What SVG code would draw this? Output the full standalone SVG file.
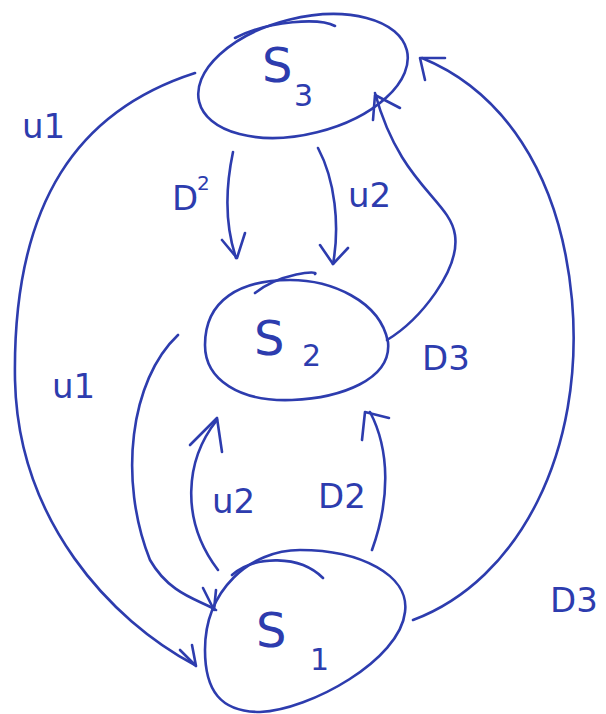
<svg xmlns="http://www.w3.org/2000/svg" width="606" height="714" viewBox="0 0 606 714">
<style>
.ln{fill:none;stroke:#2d3cae;stroke-width:2.6;stroke-linecap:round;stroke-linejoin:round}
.tx{fill:#2d3cae;font-family:"DejaVu Sans",sans-serif}
.lb{font-size:34px}
.nm{font-size:48px}
.sb{font-size:30px}
</style>
<rect width="606" height="714" fill="#ffffff"/>
<g id="S3">
<ellipse class="ln" cx="303" cy="76" rx="107" ry="58" transform="rotate(-14 303 76)"/>
<path class="ln" d="M235 38 C270 20 320 18 335 26"/>
<text class="tx nm" x="262" y="82">S</text>
<text class="tx sb" x="294" y="106">3</text>
</g>
<g id="S2">
<path class="ln" d="M388 342 C380 300 330 280 290 280 C240 280 205 300 205 345 C205 380 240 402 292 400 C340 398 392 380 388 342 Z"/>
<path class="ln" d="M255 293 C280 273 320 270 315 274"/>
<text class="tx nm" x="254" y="355">S</text>
<text class="tx sb" x="302" y="366">2</text>
</g>
<g id="S1">
<path class="ln" d="M300 550 C360 550 410 575 405 612 C400 660 310 710 260 712 C220 712 205 690 205 650 C205 590 250 550 300 550 Z"/>
<path class="ln" d="M232 575 C255 555 300 555 323 578"/>
<text class="tx nm" x="256" y="647">S</text>
<text class="tx sb" x="310" y="670">1</text>
</g>
<g id="connectors">
<path class="ln" d="M195 73 C80 110 12 200 15 380 C18 520 110 620 195 665"/>
<path class="ln" d="M180 650 L196 666 L192 645"/>
<path class="ln" d="M413 620 C520 580 585 450 572 300 C560 170 500 90 422 58"/>
<path class="ln" d="M445 58 L420 58 L425 80"/>
<path class="ln" d="M233 152 C225 190 225 225 236 258"/>
<path class="ln" d="M222 240 L237 258 L245 233"/>
<path class="ln" d="M318 148 C335 180 340 225 333 264"/>
<path class="ln" d="M320 245 L333 264 L348 248"/>
<path class="ln" d="M387 340 C420 320 460 270 455 235 C450 200 400 185 375 93"/>
<path class="ln" d="M400 108 L375 95 L373 120"/>
<path class="ln" d="M178 335 C130 380 118 480 150 560 C170 595 200 600 216 610"/>
<path class="ln" d="M203 588 L214 610 L216 590"/>
<path class="ln" d="M218 570 C180 520 185 460 217 420"/>
<path class="ln" d="M190 445 L217 418 L222 452"/>
<path class="ln" d="M372 550 C390 500 390 450 370 412"/>
<path class="ln" d="M362 440 L365 412 L389 418"/>
</g>
<g id="labels">
<text class="tx lb" x="22" y="138">u1</text>
<text class="tx lb" x="172" y="210">D</text>
<text class="tx" font-size="20" x="197" y="190">2</text>
<text class="tx lb" x="348" y="207">u2</text>
<text class="tx lb" x="422" y="370">D3</text>
<text class="tx lb" x="52" y="398">u1</text>
<text class="tx lb" x="212" y="513">u2</text>
<text class="tx lb" x="318" y="508">D2</text>
<text class="tx lb" x="550" y="612">D3</text>
</g>
</svg>
